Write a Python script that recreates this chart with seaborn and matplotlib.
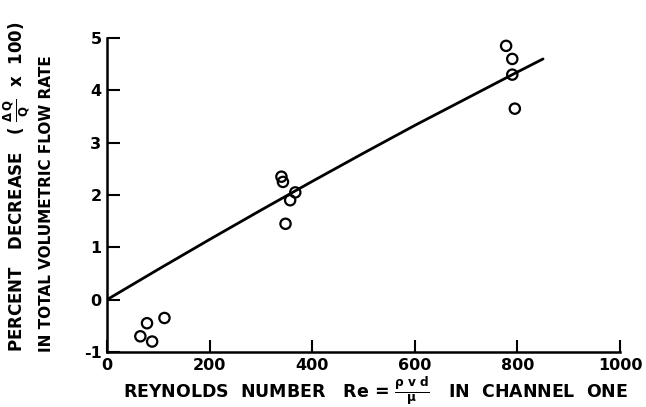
import matplotlib
matplotlib.use("Agg")
import matplotlib.pyplot as plt
import seaborn as sns
import pandas as pd

# measured data points (open circles)
re_points = [65, 78, 88, 112, 340, 343, 367, 357, 348, 778, 790, 790, 795]
dq_points = [-0.70, -0.45, -0.80, -0.35, 2.35, 2.25, 2.05, 1.90, 1.45, 4.85, 4.60, 4.30, 3.65]

# fitted curve
curve_re = [0, 100, 200, 300, 400, 500, 600, 700, 800, 850]
curve_dq = [0.0, 0.58, 1.15, 1.71, 2.26, 2.80, 3.33, 3.84, 4.35, 4.60]

x_ticks = [0, 200, 400, 600, 800, 1000]
y_ticks = [-1, 0, 1, 2, 3, 4, 5]

sns.set_theme(style="white")
plt.rcParams["font.family"] = ["DejaVu Sans"]
plt.rcParams["mathtext.fontset"] = "dejavusans"
plt.rcParams["text.color"] = "black"

fig = plt.figure(figsize=(6.46, 4.07), dpi=100)
ax = fig.add_axes([107 / 646, 1 - 352 / 407, 513 / 646, 314 / 407])

pts = pd.DataFrame({"re": re_points, "dq": dq_points})
crv = pd.DataFrame({"re": curve_re, "dq": curve_dq})

sns.lineplot(data=crv, x="re", y="dq", ax=ax, color="black", linewidth=2.0)
sns.scatterplot(data=pts, x="re", y="dq", ax=ax, marker="o", s=55,
                facecolors="none", edgecolor="black", linewidth=1.6, zorder=3)

ax.set_xlim(0, 1000)
ax.set_ylim(-1, 5)
ax.set_xticks(x_ticks)
ax.set_yticks(y_ticks)
ax.set_xticklabels([str(v) for v in x_ticks], fontweight="bold", fontsize=11.5, color="black")
ax.set_yticklabels([str(v) for v in y_ticks], fontweight="bold", fontsize=11.5, color="black")
ax.tick_params(axis="both", direction="in", length=9, width=1.5, colors="black",
               bottom=True, left=True, top=False, right=False, pad=4)
for s in ["top", "right"]:
    ax.spines[s].set_visible(False)
for s in ["left", "bottom"]:
    ax.spines[s].set_color("black")
    ax.spines[s].set_linewidth(1.8)
ax.set_xlabel("")
ax.set_ylabel("")

fig.text(376 / 646, 1 - 391 / 407,
         r"REYNOLDS  NUMBER   Re = $\mathbf{\frac{\rho\ v\ d}{\mu}}$   IN  CHANNEL  ONE",
         ha="center", va="center", fontsize=12.5, fontweight="bold", color="black")
fig.text(17 / 646, 1 - 352 / 407,
         r"PERCENT   DECREASE   ( $\mathbf{\frac{\Delta\, Q}{Q}}$  x  100)",
         rotation=90, ha="center", va="bottom", fontsize=12, fontweight="bold", color="black")
fig.text(47 / 646, 1 - 352 / 407, "IN TOTAL VOLUMETRIC FLOW RATE",
         rotation=90, ha="center", va="bottom", fontsize=11, fontweight="bold", color="black")

fig.savefig("out.png", dpi=100)
